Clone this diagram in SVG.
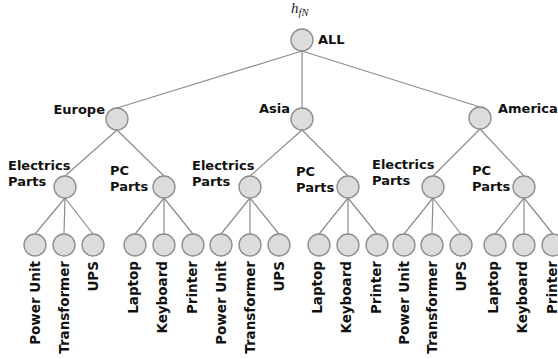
<svg xmlns="http://www.w3.org/2000/svg" width="558" height="359" viewBox="0 0 558 359">
  <style>
    .edge { stroke: #8c8c8c; stroke-width: 1.2; fill: none; }
    .node circle { fill: #dcdcdc; stroke: #8c8c8c; stroke-width: 1.3; }
    .lbl { font-family: "DejaVu Sans", Verdana, sans-serif; font-weight: bold; font-size: 13px; fill: #111; }
    .leaf { font-family: "DejaVu Sans", Verdana, sans-serif; font-weight: bold; font-size: 13.5px; fill: #111; text-anchor: end; }
    .math { font-family: "Liberation Serif", "DejaVu Serif", serif; font-style: italic; fill: #222; }
  </style>
  <rect width="558" height="359" fill="#ffffff"/>

  <!-- connectors: parent bottom to child top -->
  <g id="connectors">
    <line class="edge" x1="302" y1="51" x2="117" y2="108"/>
    <line class="edge" x1="302" y1="51" x2="302" y2="108"/>
    <line class="edge" x1="302" y1="51" x2="480" y2="107"/>

    <line class="edge" x1="117" y1="130" x2="65" y2="176"/>
    <line class="edge" x1="117" y1="130" x2="164" y2="176"/>
    <line class="edge" x1="302" y1="130" x2="250" y2="176"/>
    <line class="edge" x1="302" y1="130" x2="348" y2="176"/>
    <line class="edge" x1="480" y1="129" x2="433" y2="176"/>
    <line class="edge" x1="480" y1="129" x2="524" y2="176"/>

    <line class="edge" x1="65" y1="198" x2="35" y2="234"/>
    <line class="edge" x1="65" y1="198" x2="64" y2="234"/>
    <line class="edge" x1="65" y1="198" x2="93" y2="234"/>
    <line class="edge" x1="164" y1="198" x2="135" y2="234"/>
    <line class="edge" x1="164" y1="198" x2="164" y2="234"/>
    <line class="edge" x1="164" y1="198" x2="193" y2="234"/>

    <line class="edge" x1="250" y1="198" x2="221" y2="234"/>
    <line class="edge" x1="250" y1="198" x2="250" y2="234"/>
    <line class="edge" x1="250" y1="198" x2="279" y2="234"/>
    <line class="edge" x1="348" y1="198" x2="319" y2="234"/>
    <line class="edge" x1="348" y1="198" x2="348" y2="234"/>
    <line class="edge" x1="348" y1="198" x2="377" y2="234"/>

    <line class="edge" x1="433" y1="198" x2="404" y2="234"/>
    <line class="edge" x1="433" y1="198" x2="432" y2="234"/>
    <line class="edge" x1="433" y1="198" x2="461" y2="234"/>
    <line class="edge" x1="524" y1="198" x2="495" y2="234"/>
    <line class="edge" x1="524" y1="198" x2="524" y2="234"/>
    <line class="edge" x1="524" y1="198" x2="553" y2="234"/>
  </g>

  <!-- root -->
  <g id="n-all" class="node">
    <circle cx="302" cy="40" r="11"/>
    <text class="math" x="291" y="13" font-size="15">h<tspan font-size="10.5" dy="3">fN</tspan></text>
    <text class="lbl" x="318" y="44">ALL</text>
  </g>

  <!-- regions -->
  <g id="n-europe" class="node">
    <circle cx="117" cy="119" r="11"/>
    <text class="lbl" x="105" y="114" text-anchor="end">Europe</text>
  </g>
  <g id="n-asia" class="node">
    <circle cx="302" cy="119" r="11"/>
    <text class="lbl" x="259" y="113">Asia</text>
  </g>
  <g id="n-america" class="node">
    <circle cx="480" cy="118" r="11"/>
    <text class="lbl" x="498" y="113">America</text>
  </g>

  <!-- part categories -->
  <g id="n-eu-elec" class="node">
    <circle cx="65" cy="187" r="11"/>
    <text class="lbl" x="8" y="170">Electrics</text>
    <text class="lbl" x="8" y="186">Parts</text>
  </g>
  <g id="n-eu-pc" class="node">
    <circle cx="164" cy="187" r="11"/>
    <text class="lbl" x="110" y="175">PC</text>
    <text class="lbl" x="110" y="191">Parts</text>
  </g>
  <g id="n-as-elec" class="node">
    <circle cx="250" cy="187" r="11"/>
    <text class="lbl" x="192" y="170">Electrics</text>
    <text class="lbl" x="192" y="186">Parts</text>
  </g>
  <g id="n-as-pc" class="node">
    <circle cx="348" cy="187" r="11"/>
    <text class="lbl" x="296" y="176">PC</text>
    <text class="lbl" x="296" y="192">Parts</text>
  </g>
  <g id="n-am-elec" class="node">
    <circle cx="433" cy="187" r="11"/>
    <text class="lbl" x="372" y="169">Electrics</text>
    <text class="lbl" x="372" y="185">Parts</text>
  </g>
  <g id="n-am-pc" class="node">
    <circle cx="524" cy="187" r="11"/>
    <text class="lbl" x="472" y="175">PC</text>
    <text class="lbl" x="472" y="191">Parts</text>
  </g>

  <!-- products: Europe -->
  <g id="n-eu-power" class="node"><circle cx="35" cy="245" r="11"/><text class="leaf" transform="translate(40,261) rotate(-90)">Power Unit</text></g>
  <g id="n-eu-trans" class="node"><circle cx="64" cy="245" r="11"/><text class="leaf" transform="translate(69,261) rotate(-90)">Transformer</text></g>
  <g id="n-eu-ups" class="node"><circle cx="93" cy="245" r="11"/><text class="leaf" transform="translate(98,261) rotate(-90)">UPS</text></g>
  <g id="n-eu-laptop" class="node"><circle cx="135" cy="245" r="11"/><text class="leaf" transform="translate(138,261) rotate(-90)">Laptop</text></g>
  <g id="n-eu-kbd" class="node"><circle cx="164" cy="245" r="11"/><text class="leaf" transform="translate(167,261) rotate(-90)">Keyboard</text></g>
  <g id="n-eu-printer" class="node"><circle cx="193" cy="245" r="11"/><text class="leaf" transform="translate(197,261) rotate(-90)">Printer</text></g>

  <!-- products: Asia -->
  <g id="n-as-power" class="node"><circle cx="221" cy="245" r="11"/><text class="leaf" transform="translate(226,261) rotate(-90)">Power Unit</text></g>
  <g id="n-as-trans" class="node"><circle cx="250" cy="245" r="11"/><text class="leaf" transform="translate(255,261) rotate(-90)">Transformer</text></g>
  <g id="n-as-ups" class="node"><circle cx="279" cy="245" r="11"/><text class="leaf" transform="translate(284,261) rotate(-90)">UPS</text></g>
  <g id="n-as-laptop" class="node"><circle cx="319" cy="245" r="11"/><text class="leaf" transform="translate(322,261) rotate(-90)">Laptop</text></g>
  <g id="n-as-kbd" class="node"><circle cx="348" cy="245" r="11"/><text class="leaf" transform="translate(351,261) rotate(-90)">Keyboard</text></g>
  <g id="n-as-printer" class="node"><circle cx="377" cy="245" r="11"/><text class="leaf" transform="translate(381,261) rotate(-90)">Printer</text></g>

  <!-- products: America -->
  <g id="n-am-power" class="node"><circle cx="404" cy="245" r="11"/><text class="leaf" transform="translate(409,261) rotate(-90)">Power Unit</text></g>
  <g id="n-am-trans" class="node"><circle cx="432" cy="245" r="11"/><text class="leaf" transform="translate(437,261) rotate(-90)">Transformer</text></g>
  <g id="n-am-ups" class="node"><circle cx="461" cy="245" r="11"/><text class="leaf" transform="translate(466,261) rotate(-90)">UPS</text></g>
  <g id="n-am-laptop" class="node"><circle cx="495" cy="245" r="11"/><text class="leaf" transform="translate(498,261) rotate(-90)">Laptop</text></g>
  <g id="n-am-kbd" class="node"><circle cx="524" cy="245" r="11"/><text class="leaf" transform="translate(527,261) rotate(-90)">Keyboard</text></g>
  <g id="n-am-printer" class="node"><circle cx="553" cy="245" r="11"/><text class="leaf" transform="translate(557,261) rotate(-90)">Printer</text></g>
</svg>
